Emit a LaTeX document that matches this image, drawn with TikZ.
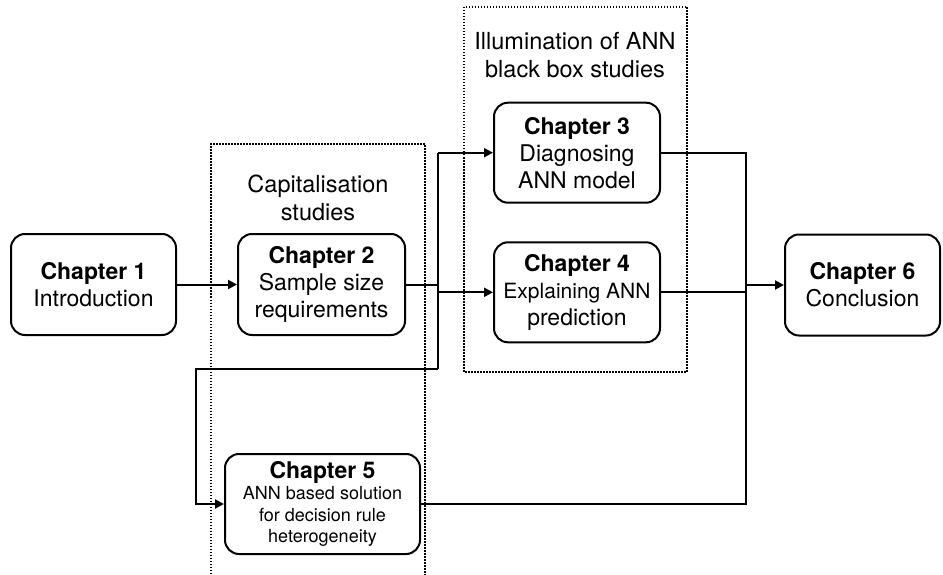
\documentclass[tikz,border=0pt]{standalone}
\usepackage{fontspec}
\setmainfont{TeX Gyre Heros}
\usetikzlibrary{arrows.meta}

\tikzset{
  chapter/.style={draw, line width=2pt, rounded corners=14pt, align=center,
    inner sep=2pt, font=\fontsize{23}{27}\selectfont},
  conn/.style={line width=2pt},
  arr/.style={conn, -{Triangle[length=9pt,width=9pt]}},
  group/.style={line width=1.5pt, dash pattern=on 1.5pt off 1.5pt},
  grouptitle/.style={align=center, font=\fontsize{23.5}{28}\selectfont},
}

\begin{document}
\begin{tikzpicture}[x=1pt, y=-1pt]
  \useasboundingbox (0,0) rectangle (943,575);

  % study groups (dotted frames)
  \draw[group] (211,580) |- (425,144) -- (425,580);
  \draw[group] (464,7) rectangle (687,372);
  \node[grouptitle] (capt) at (318,198) {Capitalisation\\studies};
  \node[grouptitle] (illt) at (575,55) {Illumination of ANN\\black box studies};

  % chapters
  \node[chapter, minimum width=165pt, minimum height=101pt] (ch1) at (93.5,284.5)
    {\textbf{Chapter 1}\\Introduction};
  \node[chapter, minimum width=167pt, minimum height=101pt] (ch2) at (321.5,284.5)
    {\textbf{Chapter 2}\\Sample size\\requirements};
  \node[chapter, minimum width=166pt, minimum height=100pt] (ch3) at (577,152.7)
    {\textbf{Chapter 3}\\Diagnosing\\ANN model};
  \node[chapter, minimum width=166pt, minimum height=100pt] (ch4) at (577,292.3)
    {\textbf{Chapter 4}\\{\fontsize{21}{25}\selectfont Explaining ANN}\\prediction};
  \node[chapter, minimum width=195pt, minimum height=100pt,
        font=\fontsize{18}{21.5}\selectfont] (ch5) at (322.5,504)
    {{\fontsize{23}{25}\selectfont\bfseries Chapter 5}\\ANN based solution\\for decision rule\\heterogeneity};
  \node[chapter, minimum width=155pt, minimum height=101pt] (ch6) at (862.5,285)
    {\textbf{Chapter 6}\\Conclusion};

  % junction points
  \coordinate (sTop) at (438,152.7);
  \coordinate (sBot) at (438,369);
  \coordinate (lTop) at (196,369);
  \coordinate (mx) at (746,152.7);

  % connectors
  \draw[arr] (ch1) -- (ch2);
  \draw[conn] (ch2.east) -- (ch2.east -| sTop);
  \draw[conn] (sTop) -- (sBot);
  \draw[arr] (sTop) -- (ch3.west);
  \draw[arr] (sTop |- ch4.west) -- (ch4.west);
  \draw[arr] (sBot) -- (lTop) |- (ch5.west);

  \draw[conn] (ch3.east) -- (mx) |- (ch5.east);
  \draw[conn] (ch4.east) -- (ch4.east -| mx);
  \draw[arr] (ch6.west -| mx) -- (ch6.west);
\end{tikzpicture}
\end{document}
